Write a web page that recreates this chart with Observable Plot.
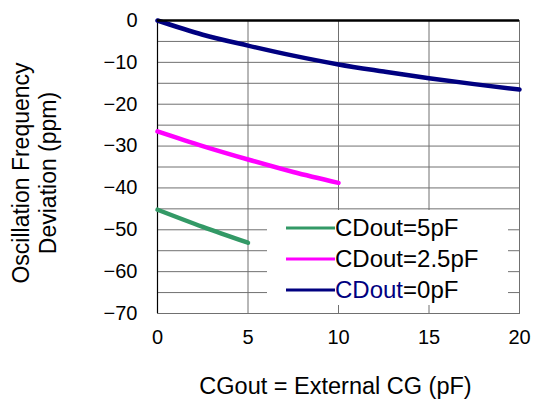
<!DOCTYPE html>
<html>
<head>
<meta charset="utf-8">
<script src="https://cdn.jsdelivr.net/npm/d3@7"></script>
<script src="https://cdn.jsdelivr.net/npm/@observablehq/plot@0.6"></script>
<style>
  html, body { margin: 0; padding: 0; background: #fff; }
  #wrap { position: relative; width: 533px; height: 401px; font-family: "Liberation Sans", Arial, sans-serif; }
  #legend { position: absolute; left: 267px; top: 210px; width: 241px; height: 95px; background: #fff; }
  .item { position: absolute; left: 0; height: 30px; display: flex; align-items: center; font-size: 24px; color: #000; white-space: nowrap; }
  .item svg { margin-left: 19px; margin-right: 0px; }
</style>
</head>
<body>
<div id="wrap"></div>
<script>
// ---- data ----
const seriesNames = ["CDout=5pF", "CDout=2.5pF", "CDout=0pF"];
const seriesColors = ["#339966", "#ff00ff", "#000080"];
const x5pF = [0, 2.5, 5];
const y5pF = [-45.2, -49.3, -53.1];
const x25pF = [0, 2.5, 5, 7.5, 10];
const y25pF = [-26.5, -30.0, -33.2, -36.2, -38.8];
const x0pF = [0, 2.5, 5, 7.5, 10, 12.5, 15, 17.5, 20];
const y0pF = [0, -3.4, -6.0, -8.4, -10.5, -12.2, -13.8, -15.2, -16.5];
const xTicks = [0, 5, 10, 15, 20];
const yTicks = [0, -10, -20, -30, -40, -50, -60, -70];
const yGrid = [-5, -10, -15, -20, -25, -30, -35, -40, -45, -50, -55, -60, -65];
const xGrid = [5, 10, 15];
const xTitle = "CGout = External CG (pF)";
const yTitle = "Oscillation Frequency\nDeviation (ppm)";

const toRows = (xs, ys, name) => xs.map((x, i) => ({x, y: ys[i], name}));
const data = [
  ...toRows(x5pF, y5pF, seriesNames[0]),
  ...toRows(x25pF, y25pF, seriesNames[1]),
  ...toRows(x0pF, y0pF, seriesNames[2])
];

const font = "'Liberation Sans', Arial, sans-serif";

const chart = Plot.plot({
  width: 533,
  height: 401,
  marginLeft: 157,
  marginRight: 14,
  marginTop: 20,
  marginBottom: 88,
  style: { fontFamily: font, background: "#fff", color: "#000" },
  x: { domain: [0, 20] },
  y: { domain: [-70, 0] },
  color: { domain: seriesNames, range: seriesColors },
  marks: [
    Plot.ruleY(yGrid, { stroke: "#707070", strokeWidth: 1 }),
    Plot.ruleX(xGrid, { stroke: "#707070", strokeWidth: 1 }),
    Plot.frame({ stroke: "#707070", strokeWidth: 1 }),
    Plot.ruleX([0], { stroke: "#000", strokeWidth: 1.2 }),
    Plot.axisY({ ticks: yTicks, tickSize: 0, tickPadding: 20, fontSize: 20, label: null }),
    Plot.axisX({ ticks: xTicks, tickSize: 0, tickPadding: 16, fontSize: 20, label: null }),
    Plot.line(data, { x: "x", y: "y", z: "name", stroke: "name", strokeWidth: 4.5, curve: "monotone-x" }),
    Plot.ruleY([0], { stroke: "#000", strokeWidth: 2.5 }),
    Plot.text([xTitle], { frameAnchor: "bottom", dy: 73, fontSize: 23.5, lineAnchor: "middle", dx: -3 }),
    Plot.text([yTitle], { frameAnchor: "left", textAnchor: "middle", rotate: -90, dx: -124, dy: 6, fontSize: 23, lineAnchor: "middle", lineHeight: 1.17 })
  ]
});

const wrap = document.getElementById("wrap");
wrap.appendChild(chart);

// legend overlay
const legend = document.createElement("div");
legend.id = "legend";
seriesNames.forEach((name, i) => {
  const item = document.createElement("div");
  item.className = "item";
  item.style.top = (3 + i * 31) + "px";
  item.innerHTML = `<svg width="49" height="6"><line x1="0" x2="49" y1="3" y2="3" stroke="${seriesColors[i]}" stroke-width="3"/></svg>`;
  const label = document.createElement("span");
  if (i === 2) {
    const eq = name.indexOf("=");
    label.innerHTML = `<span style="color:${seriesColors[i]}">${name.slice(0, eq)}</span>${name.slice(eq)}`;
  } else {
    label.textContent = name;
  }
  item.appendChild(label);
  legend.appendChild(item);
});
wrap.appendChild(legend);
</script>
</body>
</html>
